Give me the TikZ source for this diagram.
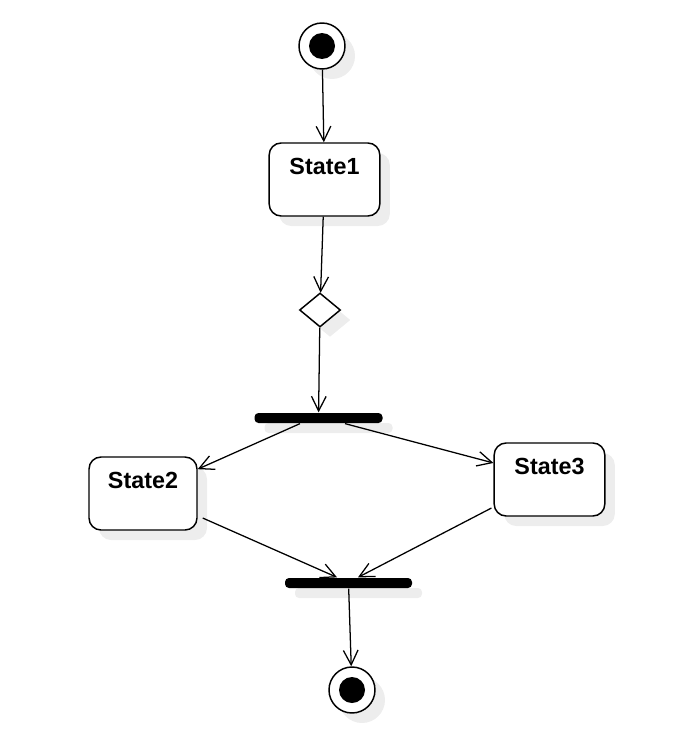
\documentclass[tikz,border=0pt]{standalone}
\usepackage{fontspec}
\setmainfont{Liberation Sans}
\usetikzlibrary{arrows.meta,shapes.geometric,shadows}

\begin{document}
\begin{tikzpicture}[x=0.75pt, y=-0.75pt, line width=0.95pt,
    >={Straight Barb[length=11pt,width=11pt]},
    shadowed/.style={drop shadow={shadow xshift=7.5pt, shadow yshift=-7.5pt, fill=black!7, opacity=1}},
    statebox/.style={shape=rectangle, draw=black, line width=1.1pt, rounded corners=9pt, fill=white, shadowed, minimum width=83pt, minimum height=54.75pt, font=\fontsize{17.5}{20}\selectfont\bfseries, text height=12.5pt, text depth=20.75pt},
    terminal/.style={shape=circle, draw=black, line width=1.1pt, fill=white, shadowed, minimum size=34.5pt, inner sep=0pt, path picture={\fill[black] (path picture bounding box.center) circle (9.75pt);}},
    forkbar/.style={shape=rectangle, fill=black, shadowed, rounded corners=3pt, minimum width=96pt, minimum height=7.5pt, inner sep=0pt},
    decision/.style={shape=diamond, draw=black, line width=1.1pt, fill=white, shadowed, minimum width=30.75pt, minimum height=25.5pt, inner sep=0pt}]
    \useasboundingbox (0,0) rectangle (699,753);

    \node[terminal] (start) at (322, 46) {};
    \node[statebox] (state1) at (324.5, 179.5) {State1};
    \node[decision] (check) at (320, 310) {};
    \node[forkbar] (fork) at (318.5, 418) {};
    \node[statebox, minimum width=81pt] (state2) at (143, 493.5) {State2};
    \node[statebox] (state3) at (549.5, 479.5) {State3};
    \node[forkbar, minimum width=95.25pt] (join) at (348.5, 583) {};
    \node[terminal] (end) at (352, 690) {};

    \draw [->] (start) -- (state1);
    \draw [->] (state1) -- (check);
    \draw [->] (check) -- (fork);
    \draw [->] ([xshift=-13.9pt]fork.south) -- (state2);
    \draw [->] ([xshift=19.9pt]fork.south) -- ([yshift=12.4pt]state3.west);
    \draw [->] ([xshift=3.75pt, yshift=-18.4pt]state2.east) -- ([xshift=-8.6pt]join.north);
    \draw [->] ([xshift=-1.5pt, yshift=-21.4pt]state3.west) -- ([xshift=7.1pt]join.north);
    \draw [->] (join) -- (end);
  \end{tikzpicture}
\end{document}
